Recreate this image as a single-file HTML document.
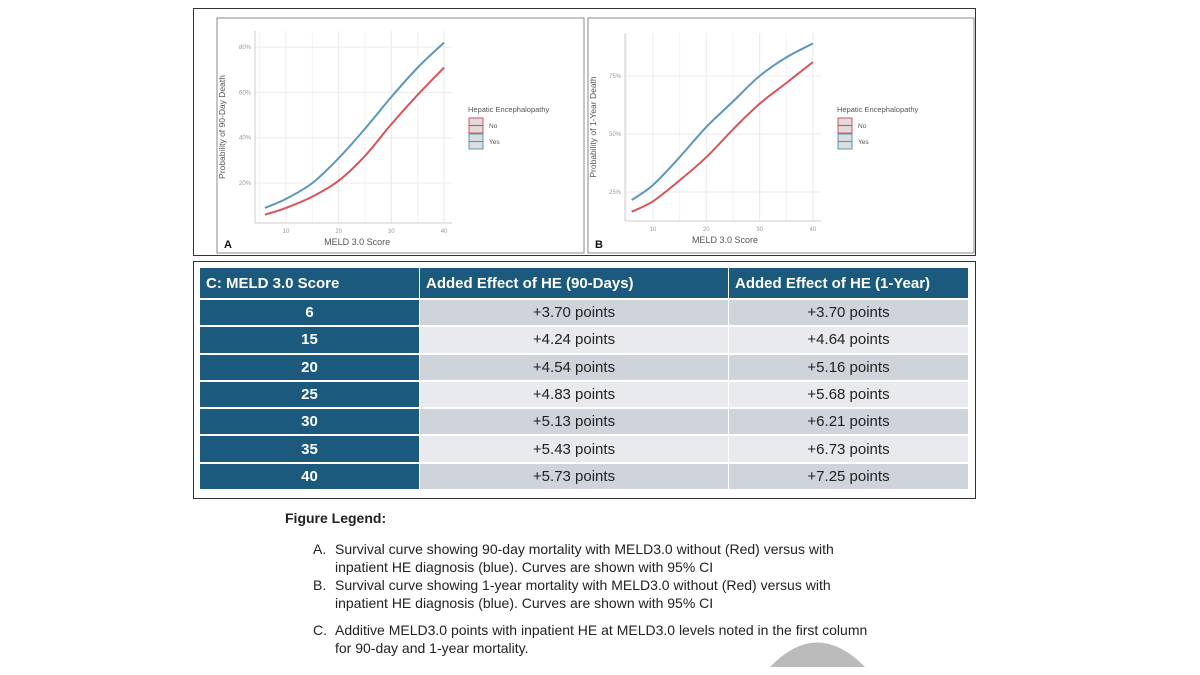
<!DOCTYPE html>
<html><head><meta charset="utf-8">
<style>
body{margin:0;width:1200px;height:675px;background:#fff;position:relative;overflow:hidden;font-family:"Liberation Sans",sans-serif}
.abs{position:absolute}
table{border-collapse:separate;border-spacing:1px 2px}
td,th{font-family:"Liberation Sans",sans-serif;font-size:15px;padding:0;height:25.3px}
th{background:#1b5a7c;color:#fff;text-align:left;padding-left:6px;font-weight:bold;height:30px}
td.c1{background:#1b5a7c;color:#fff;font-weight:bold;text-align:center}
tr.o td.v{background:#cfd4db}
tr.e td.v{background:#e8eaee}
td.v{text-align:center;color:#222}
.leg{font-size:14px;color:#222}
</style></head><body>
<div class="abs" style="left:193px;top:8px;width:783px;height:248px;border:1px solid #333;box-sizing:border-box"></div>
<svg class="abs" style="left:0;top:0" width="1200" height="260" id="charts"></svg>

<div class="abs" style="left:193px;top:261px;width:783px;height:238px;border:1px solid #333;box-sizing:border-box"></div>
<table class="abs" style="left:199px;top:266px;width:770px">
<colgroup><col style="width:219px"><col style="width:308px"><col style="width:239px"></colgroup>
<tr><th>C: MELD 3.0 Score</th><th>Added Effect of HE (90-Days)</th><th>Added Effect of HE (1-Year)</th></tr>
<tr class="o"><td class="c1">6</td><td class="v">+3.70 points</td><td class="v">+3.70 points</td></tr>
<tr class="e"><td class="c1">15</td><td class="v">+4.24 points</td><td class="v">+4.64 points</td></tr>
<tr class="o"><td class="c1">20</td><td class="v">+4.54 points</td><td class="v">+5.16 points</td></tr>
<tr class="e"><td class="c1">25</td><td class="v">+4.83 points</td><td class="v">+5.68 points</td></tr>
<tr class="o"><td class="c1">30</td><td class="v">+5.13 points</td><td class="v">+6.21 points</td></tr>
<tr class="e"><td class="c1">35</td><td class="v">+5.43 points</td><td class="v">+6.73 points</td></tr>
<tr class="o"><td class="c1">40</td><td class="v">+5.73 points</td><td class="v">+7.25 points</td></tr>
</table>

<div class="abs leg" style="left:285px;top:510px;font-weight:bold">Figure Legend:</div>
<div class="abs leg" style="left:313px;top:541px;width:600px;line-height:17.5px"><span style="position:absolute;left:0">A.</span><div style="margin-left:22px">Survival curve showing 90-day mortality with MELD3.0 without (Red) versus with<br>inpatient HE diagnosis (blue). Curves are shown with 95% CI</div></div>
<div class="abs leg" style="left:313px;top:577px;width:600px;line-height:17.5px"><span style="position:absolute;left:0">B.</span><div style="margin-left:22px">Survival curve showing 1-year mortality with MELD3.0 without (Red) versus with<br>inpatient HE diagnosis (blue). Curves are shown with 95% CI</div></div>
<div class="abs leg" style="left:313px;top:622px;width:640px;line-height:17.5px"><span style="position:absolute;left:0">C.</span><div style="margin-left:22px">Additive MELD3.0 points with inpatient HE at MELD3.0 levels noted in the first column<br>for 90-day and 1-year mortality.</div></div>
<svg class="abs" style="left:760px;top:630px" width="120" height="45"><path d="M10 37 Q57 -12 105 37 Z" fill="#bbb"/></svg>

<script>
const scoresA=[6,10,15,20,25,30,35,40];
const yesA=[9,13,20,31,44,58,71,82];
const noA=[6,9,14,21,32,46,59,71];
const ticksXA=[10,20,30,40];
const ticksYA=[20,40,60,80];
const scoresB=[6,10,15,20,25,30,35,40];
const yesB=[21.5,28,40,53,64,75,83,89];
const noB=[16.5,21,30,40,52,63,72,81];
const ticksXB=[10,20,30,40];
const ticksYB=[25,50,75];
const NS='http://www.w3.org/2000/svg';
const svg=document.getElementById('charts');
function mk(t,a,p){const e=document.createElementNS(NS,t);for(const k in a)e.setAttribute(k,a[k]);(p||svg).appendChild(e);return e;}
function smooth(pts){
  let d='M'+pts[0][0].toFixed(1)+' '+pts[0][1].toFixed(1);
  for(let i=0;i<pts.length-1;i++){
    const p0=pts[Math.max(0,i-1)],p1=pts[i],p2=pts[i+1],p3=pts[Math.min(pts.length-1,i+2)];
    const c1=[p1[0]+(p2[0]-p0[0])/6,p1[1]+(p2[1]-p0[1])/6];
    const c2=[p2[0]-(p3[0]-p1[0])/6,p2[1]-(p3[1]-p1[1])/6];
    d+=`C${c1[0].toFixed(1)} ${c1[1].toFixed(1)} ${c2[0].toFixed(1)} ${c2[1].toFixed(1)} ${p2[0].toFixed(1)} ${p2[1].toFixed(1)}`;
  }
  return d;
}
function panel(cfg){
  const g=mk('g',{});
  
  
  mk('rect',{x:cfg.box[0],y:cfg.box[1],width:cfg.box[2],height:cfg.box[3],fill:'#fff',stroke:'#888','stroke-width':1},g);
  const X=v=>cfg.x0+(v-10)*cfg.xs, Y=p=>cfg.y0-(p-cfg.yref)*cfg.ys;
  for(let v=5;v<=40;v+=5){mk('line',{x1:X(v),x2:X(v),y1:cfg.top,y2:cfg.bot,stroke:'#f2f2f2'},g);}
  cfg.ty.forEach(p=>{mk('line',{x1:cfg.left,x2:X(41.5),y1:Y(p),y2:Y(p),stroke:'#ebebeb'},g);
    const t=mk('text',{x:cfg.left-4,y:Y(p)+2,'font-size':6,fill:'#999','text-anchor':'end'},g);t.textContent=p+'%';
    });
  cfg.tx.forEach(v=>{mk('line',{x1:X(v),x2:X(v),y1:cfg.top,y2:cfg.bot,stroke:'#ebebeb'},g);
    const t=mk('text',{x:X(v),y:cfg.bot+10,'font-size':6,fill:'#999','text-anchor':'middle'},g);t.textContent=v;
    });
  mk('line',{x1:cfg.left,x2:cfg.left,y1:cfg.top,y2:cfg.bot,stroke:'#ccc'},g);
  mk('line',{x1:cfg.left,x2:X(41.5),y1:cfg.bot,y2:cfg.bot,stroke:'#ccc'},g);
  function curve(xs,ys,col,nm){
    const pts=xs.map((v,i)=>[X(v),Y(ys[i])]);
    const p=mk('path',{d:smooth(pts),fill:'none',stroke:col,'stroke-width':2,'stroke-linejoin':'round'},g);
    
  }
  curve(cfg.xs_,cfg.no,'#d9545a','line-no-he');
  curve(cfg.xs_,cfg.yes,'#5b97bd','line-yes-he');
  const xt=mk('text',{x:X(23.5),y:cfg.bot+22,'font-size':9,fill:'#555','text-anchor':'middle'},g);xt.textContent='MELD 3.0 Score';
  
  const cy=(cfg.top+cfg.bot)/2;
  const yt=mk('text',{x:0,y:0,'font-size':8.5,fill:'#555','text-anchor':'middle',transform:`translate(${cfg.box[0]+8},${cy}) rotate(-90)`},g);yt.textContent=cfg.ytitle;
  
  const pl=mk('text',{x:cfg.box[0]+7,y:cfg.box[1]+cfg.box[3]-5,'font-size':11,'font-weight':'bold',fill:'#111'},g);pl.textContent=cfg.label;
  
  const lx=cfg.lx;
  const lt=mk('text',{x:lx,y:112,'font-size':7.5,fill:'#555'},g);lt.textContent='Hepatic Encephalopathy';
  
  [['No','#d9545a',118],['Yes','#5b97bd',134]].forEach(([n,c,yy])=>{
    mk('rect',{x:lx+1,y:yy,width:14,height:15,fill:'#ddd',stroke:c},g);
    mk('line',{x1:lx+1,x2:lx+15,y1:yy+7.5,y2:yy+7.5,stroke:c,'stroke-width':1.2},g);
    const t=mk('text',{x:lx+21,y:yy+10,'font-size':6.5,fill:'#555'},g);t.textContent=n;
    
  });
}
panel({name:'panel-a-90day',box:[217,18,367,235],x0:286,xs:5.27,y0:183,yref:20,ys:2.265,top:31,bot:223,left:255,
  tx:ticksXA,ty:ticksYA,xs_:scoresA,yes:yesA,no:noA,ytitle:'Probability of 90-Day Death',label:'A',lx:468});
panel({name:'panel-b-1year',box:[588,18,386,235],x0:653,xs:5.33,y0:192,yref:25,ys:2.32,top:33,bot:221,left:625,
  tx:ticksXB,ty:ticksYB,xs_:scoresB,yes:yesB,no:noB,ytitle:'Probability of 1-Year Death',label:'B',lx:837});
</script>
</body></html>
